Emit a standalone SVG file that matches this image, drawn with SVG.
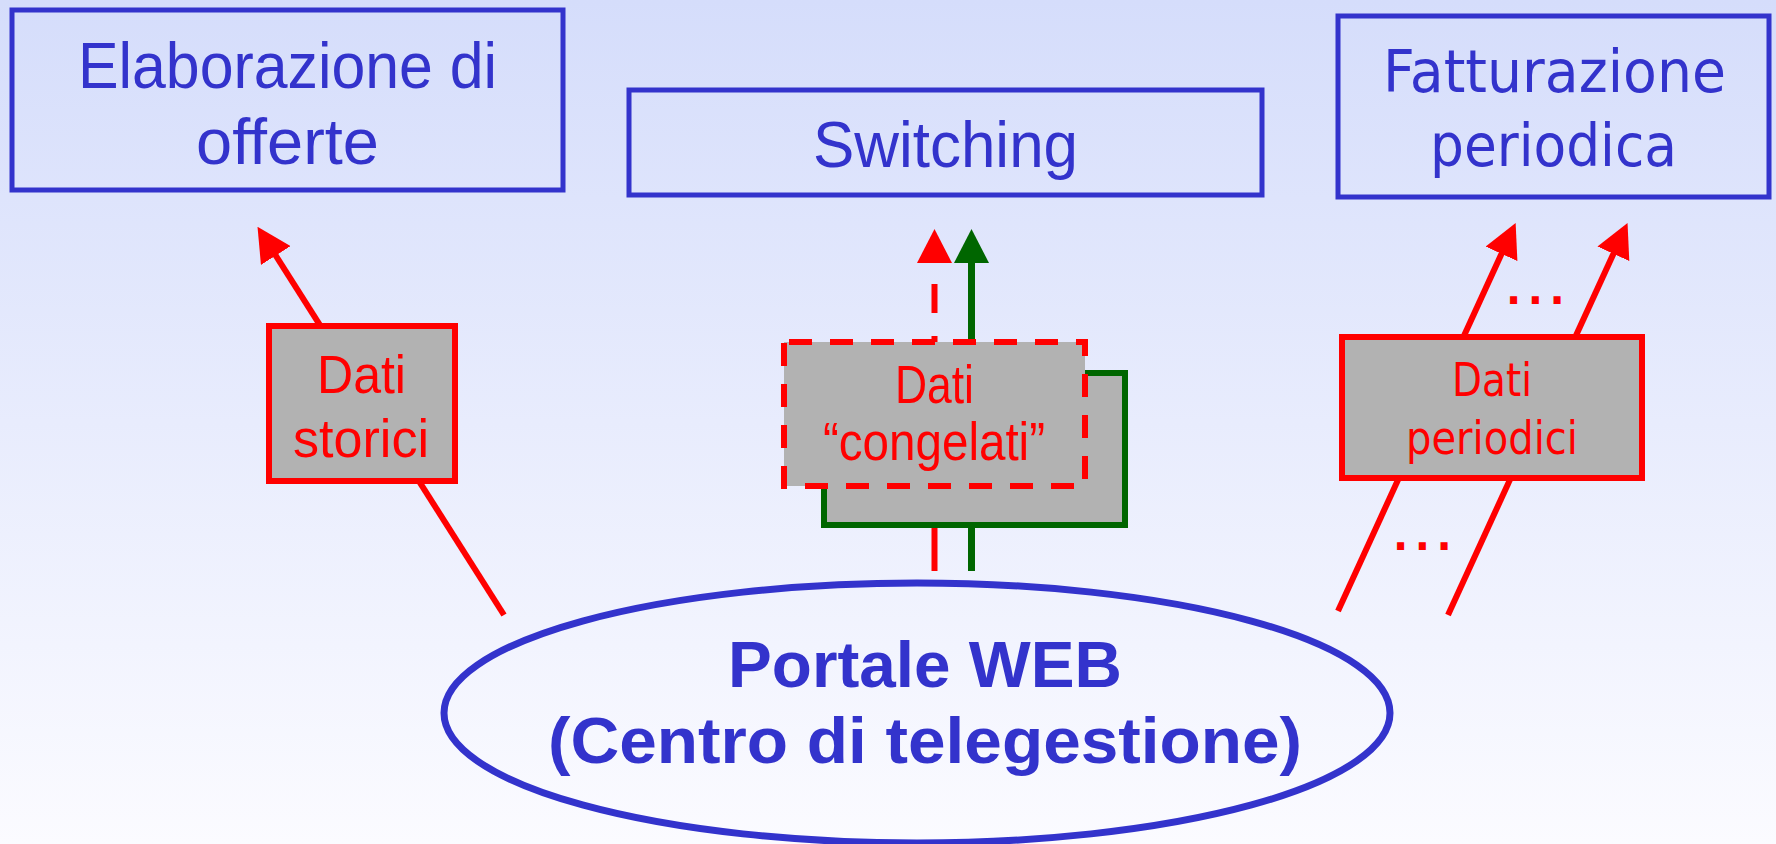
<svg xmlns="http://www.w3.org/2000/svg" width="1776" height="844" viewBox="0 0 1776 844">
<defs>
<linearGradient id="bg" x1="0" y1="0" x2="0" y2="1">
<stop offset="0" stop-color="#D5DDFB"/>
<stop offset="1" stop-color="#FBFBFF"/>
</linearGradient>
<marker id="arR" markerUnits="userSpaceOnUse" markerWidth="34" markerHeight="35" viewBox="0 0 34 35" refX="1" refY="17.5" orient="auto">
<path d="M0,0 L34,17.5 L0,35 Z" fill="#FF0000"/>
</marker>
<marker id="arG" markerUnits="userSpaceOnUse" markerWidth="34" markerHeight="35" viewBox="0 0 34 35" refX="1" refY="17.5" orient="auto">
<path d="M0,0 L34,17.5 L0,35 Z" fill="#006600"/>
</marker>
</defs>
<style>
.sys{fill:none;stroke:#3333CC;stroke-width:5}
.sysT{font-family:"Liberation Sans",Arial,sans-serif;font-size:64px;fill:#3333CC;text-anchor:middle}
.sysV{font-family:"DejaVu Sans",Verdana,sans-serif;font-size:58px;fill:#3333CC;text-anchor:middle}
.data{fill:#B2B2B2;stroke:#FF0000;stroke-width:6}
.dataT{font-family:"Liberation Sans",Arial,sans-serif;font-size:53px;fill:#FF0000;text-anchor:middle}
.dataV{font-family:"DejaVu Sans",Verdana,sans-serif;font-size:46px;fill:#FF0000;text-anchor:middle}
.dots{font-family:"DejaVu Sans",Verdana,sans-serif;font-weight:bold;font-size:40px;letter-spacing:6.5px;fill:#FF0000}
.red{fill:none;stroke:#FF0000;stroke-width:6}
.grn{fill:none;stroke:#006600;stroke-width:7}
.web{font-family:"Liberation Sans",Arial,sans-serif;font-weight:bold;font-size:65px;fill:#3333CC;text-anchor:middle}
</style>
<rect x="0" y="0" width="1776" height="844" fill="url(#bg)"/>

<g id="connectors">
<line class="red" x1="504" y1="615" x2="275.2" y2="254.7" marker-end="url(#arR)"/>
<line class="red" x1="1338" y1="611" x2="1501.9" y2="252.9" marker-end="url(#arR)"/>
<line class="red" x1="1448" y1="615" x2="1613.8" y2="252.9" marker-end="url(#arR)"/>
<line class="grn" x1="971.5" y1="571" x2="971.5" y2="262" marker-end="url(#arG)"/>
<line class="red" x1="934.5" y1="571" x2="934.5" y2="486" stroke-width="7"/>
<path class="red" d="M934.5,342 V262" stroke-dasharray="6 23 29 60" stroke-width="7" marker-end="url(#arR)"/>
<text class="dots" x="1506" y="304">...</text>
<text class="dots" x="1393" y="550">...</text>
</g>

<g id="elaborazione">
<rect class="sys" x="12" y="10" width="551" height="180"/>
<text class="sysT" x="287.5" y="88" textLength="419" lengthAdjust="spacingAndGlyphs">Elaborazione di</text>
<text class="sysT" x="287.5" y="164" textLength="183" lengthAdjust="spacingAndGlyphs">offerte</text>
</g>

<g id="switching">
<rect class="sys" x="629" y="90" width="633" height="105"/>
<text class="sysT" x="945.5" y="167" textLength="265" lengthAdjust="spacingAndGlyphs">Switching</text>
</g>

<g id="fatturazione">
<rect class="sys" x="1338" y="16" width="431" height="181"/>
<text class="sysV" x="1554.5" y="92" textLength="343" lengthAdjust="spacingAndGlyphs">Fatturazione</text>
<text class="sysV" x="1553.5" y="166" textLength="247" lengthAdjust="spacingAndGlyphs">periodica</text>
</g>

<g id="dati-storici">
<rect class="data" x="269" y="326" width="186" height="155"/>
<text class="dataT" x="361.5" y="393" textLength="89" lengthAdjust="spacingAndGlyphs">Dati</text>
<text class="dataT" x="361" y="457" textLength="136" lengthAdjust="spacingAndGlyphs">storici</text>
</g>

<g id="dati-switching">
<rect x="824" y="373" width="301" height="152" fill="#B2B2B2" stroke="#006600" stroke-width="6"/>
</g>

<g id="dati-congelati">
<rect class="data" x="784" y="342" width="301" height="144" stroke-dasharray="23 18" stroke-dashoffset="36"/>
<text class="dataT" x="934.5" y="403" font-size="50" textLength="79" lengthAdjust="spacingAndGlyphs">Dati</text>
<text class="dataT" x="934" y="460" font-size="50" textLength="222" lengthAdjust="spacingAndGlyphs">“congelati”</text>
</g>

<g id="dati-periodici">
<rect class="data" x="1342" y="337" width="300" height="141"/>
<text class="dataV" x="1492" y="396" textLength="80" lengthAdjust="spacingAndGlyphs">Dati</text>
<text class="dataV" x="1492" y="454" textLength="172" lengthAdjust="spacingAndGlyphs">periodici</text>
</g>

<g id="portale-web">
<ellipse cx="917" cy="713" rx="473" ry="130" fill="none" stroke="#3333CC" stroke-width="7"/>
<text class="web" x="925" y="687" textLength="394" lengthAdjust="spacingAndGlyphs">Portale WEB</text>
<text class="web" x="925" y="763" textLength="754" lengthAdjust="spacingAndGlyphs">(Centro di telegestione)</text>
</g>
</svg>
